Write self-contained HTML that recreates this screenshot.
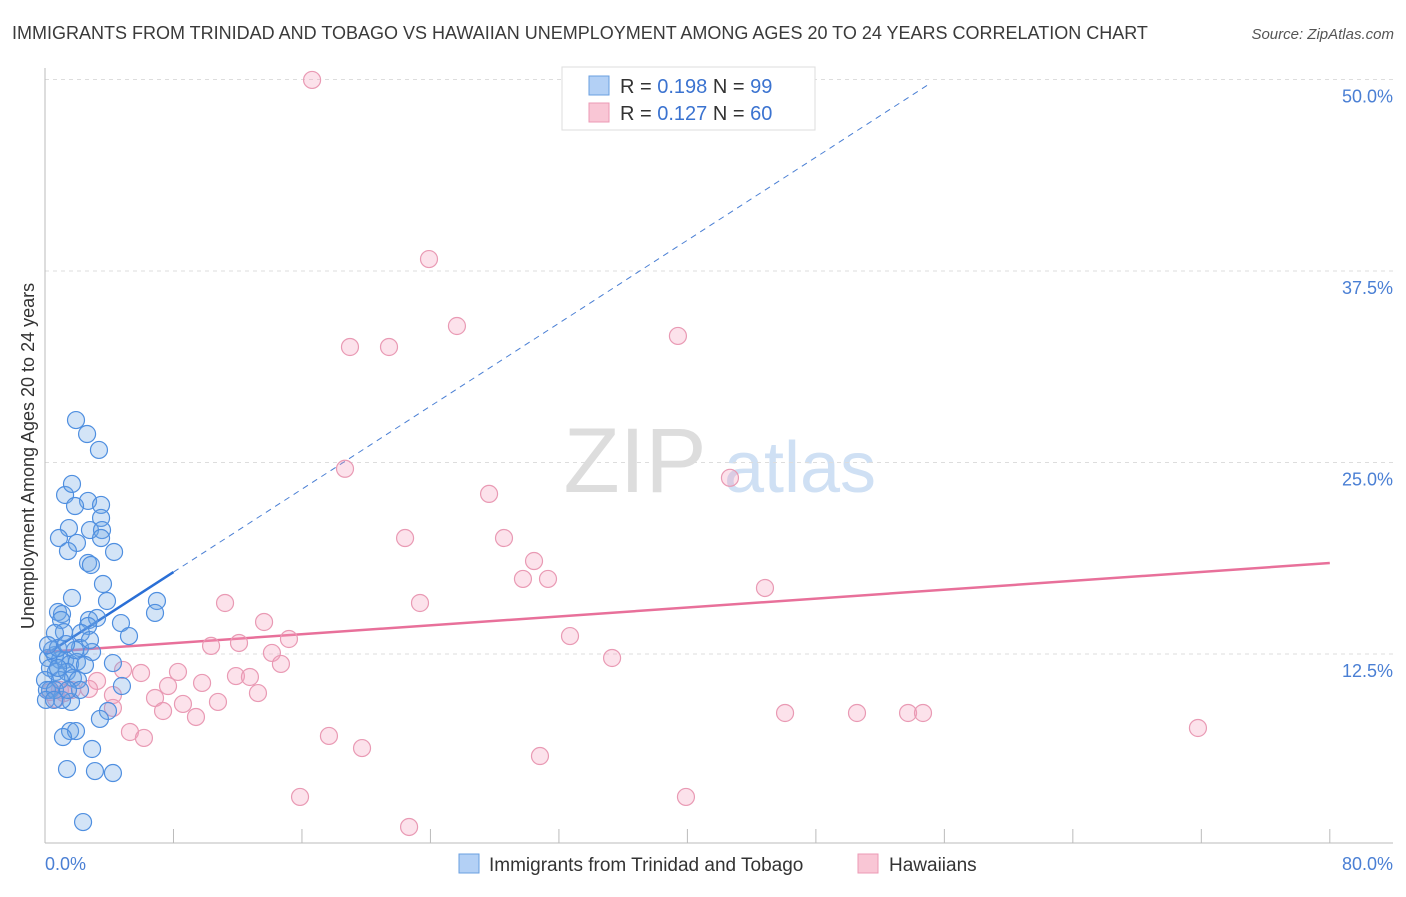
<!DOCTYPE html>
<html><head><meta charset="utf-8"><style>
body{margin:0;background:#fff;font-family:"Liberation Sans",sans-serif;}
svg text{font-family:"Liberation Sans",sans-serif;}
</style></head><body>
<svg id="chart" width="1406" height="892" viewBox="0 0 1406 892">
<text x="12" y="39" font-size="18" fill="#3a3a3a">IMMIGRANTS FROM TRINIDAD AND TOBAGO VS HAWAIIAN UNEMPLOYMENT AMONG AGES 20 TO 24 YEARS CORRELATION CHART</text>
<text x="1394" y="39" font-size="15" font-style="italic" fill="#555" text-anchor="end">Source: ZipAtlas.com</text>
<text x="0" y="0" transform="translate(34,456) rotate(-90)" font-size="18" fill="#333" text-anchor="middle">Unemployment Among Ages 20 to 24 years</text>
<g><text x="635" y="492" font-size="92" fill="#ddd" font-family="Liberation Serif" text-anchor="middle">ZIP</text><text x="800" y="492" font-size="72" fill="#cfe0f4" text-anchor="middle">atlas</text></g>
<g id="grid"></g><g id="axes"></g><g id="trend"></g><g id="pts"></g>
<g>
<rect x="562" y="67" width="253" height="63" fill="#fff" stroke="#ddd"/>
<rect x="589" y="76" width="20" height="19" fill="#b3d0f5" stroke="#6a9fe0"/>
<rect x="589" y="103" width="20" height="19" fill="#f9c6d5" stroke="#ec9ab5"/>
<text x="620" y="93" font-size="20" fill="#333">R = <tspan fill="#3b73d0">0.198</tspan>   N = <tspan fill="#3b73d0">99</tspan></text>
<text x="620" y="120" font-size="20" fill="#333">R = <tspan fill="#3b73d0">0.127</tspan>   N = <tspan fill="#3b73d0">60</tspan></text>
</g>
<g>
<rect x="459" y="854" width="20" height="19" fill="#b3d0f5" stroke="#6a9fe0"/>
<text x="489" y="871" font-size="19" fill="#333">Immigrants from Trinidad and Tobago</text>
<rect x="858" y="854" width="20" height="19" fill="#f9c6d5" stroke="#ec9ab5"/>
<text x="889" y="871" font-size="19" fill="#333">Hawaiians</text>
</g>
</svg>
<script>
const blueX=[1.93,2.62,3.36,1.25,1.68,2.68,3.49,1.87,3.49,2.8,3.55,1.49,3.49,0.87,1.99,1.43,4.3,2.68,2.86,3.61,1.68,3.86,6.97,6.85,0.81,1.06,1.0,2.74,1.18,3.24,4.73,2.68,2.24,0.62,5.23,2.18,2.93,0.62,0.93,0.19,1.25,1.56,1.99,4.23,0.31,0.68,1.37,1.74,2.05,0,4.79,0.31,3.92,3.42,1.62,1.56,1.93,1.12,2.93,1.37,3.11,4.23,2.37,0.44,0.12,0.93,1.06,0.62,2.49,1.87,2.8,0.81,1.31,0.06,0.56,2.18,1.43,0.81,0.19];
const blueY=[27.77,26.86,25.82,22.88,23.6,22.49,22.23,22.16,21.38,20.59,20.59,20.72,20.07,20.07,19.75,19.22,19.16,18.44,18.31,17.07,16.16,15.96,15.96,15.18,15.24,15.11,14.72,14.72,13.93,14.85,14.52,14.33,13.87,13.87,13.67,12.89,12.63,12.43,12.11,12.24,12.11,11.85,11.98,11.91,11.59,11.33,11.33,10.93,10.8,10.8,10.41,10.15,8.78,8.26,9.37,7.47,7.47,7.08,6.3,4.99,4.86,4.73,1.53,12.76,10.15,10.8,9.5,10.15,11.78,12.76,13.41,12.89,13.15,9.5,9.5,10.15,10.15,11.59,13.08];
const pinkX=[16.63,23.91,25.65,18.99,21.42,39.41,18.68,42.65,27.65,22.42,28.58,30.45,29.76,31.32,44.83,11.21,23.35,13.64,32.69,15.19,12.08,10.34,14.13,35.31,14.69,4.86,5.98,8.28,11.89,12.76,3.24,7.66,9.78,6.85,8.59,10.77,13.26,4.23,1.68,1.18,2.74,0.68,7.35,9.4,4.23,46.08,50.56,53.74,54.67,5.29,6.16,17.68,19.74,30.82,71.79,15.88,39.91,22.67,0.93,0.31];
const pinkY=[49.97,38.28,33.91,32.54,32.54,33.26,24.59,24.0,22.95,20.07,20.07,18.57,17.4,17.4,16.81,15.83,15.83,14.59,13.67,13.48,13.22,13.03,12.57,12.24,11.85,11.46,11.26,11.33,11.06,11.0,10.74,10.41,10.61,9.63,9.24,9.37,9.95,9.82,10.15,9.95,10.22,9.56,8.78,8.39,8.98,8.65,8.65,8.65,8.65,7.41,7.02,7.15,6.36,5.84,7.67,3.17,3.17,1.21,10.15,10.02];
const yTicks=[12.5,25.0,37.5,50.0];
const xTickVals=[8,16,24,32,40,48,56,64,72,80];
const blueFit=[12.43,0.677]; // intercept, slope
const pinkFit=[12.63,0.0726];
const NS='http://www.w3.org/2000/svg';
const xs=v=>45+v*16.06, ys=v=>845.5-v*15.32;
function mk(tag,attrs,parent){const e=document.createElementNS(NS,tag);for(const k in attrs)e.setAttribute(k,attrs[k]);document.getElementById(parent).appendChild(e);return e;}
yTicks.forEach(t=>{
 const g=mk('line',{x1:45,x2:1393,y1:ys(t),y2:ys(t),stroke:'#ddd','stroke-dasharray':'4,4'},'grid');
 
 
 const l=mk('text',{x:1393,y:ys(t)+23,'font-size':18,fill:'#4a7fd4','text-anchor':'end'},'grid');
 l.textContent=t.toFixed(1)+'%';
 
 
});
const ax=mk('line',{x1:45,x2:1393,y1:843,y2:843,stroke:'#bbb'},'axes');


const ay=mk('line',{x1:45,x2:45,y1:68,y2:843,stroke:'#bbb'},'axes');


xTickVals.forEach(t=>{
 const k=mk('line',{x1:xs(t),x2:xs(t),y1:829,y2:843,stroke:'#bbb'},'axes');
 
 
});
[[0,45,'start'],[80,1393,'end']].forEach(([v,x,a])=>{
 const l=mk('text',{x:x,y:870,'font-size':18,fill:'#4a7fd4','text-anchor':a},'axes');
 l.textContent=v.toFixed(1)+'%';
 
 
});
function pts(X,Y,fill,stroke,name){X.forEach((x,i)=>{
 const c=mk('circle',{cx:xs(x),cy:ys(Y[i]),r:8.5,fill:fill,stroke:stroke,'stroke-width':1.2},'pts');
 
 
});}
pts(pinkX,pinkY,'rgba(244,160,188,0.3)','#e99ab4','hawaiian-point');
pts(blueX,blueY,'rgba(110,165,230,0.3)','#4f8fe0','trinidad-point');
const bd=mk('line',{x1:xs(8),y1:ys(blueFit[0]+blueFit[1]*8),x2:xs(55),y2:ys(blueFit[0]+blueFit[1]*55),stroke:'#4a7fd4','stroke-width':1,'stroke-dasharray':'6,5'},'trend');


const bs=mk('line',{x1:xs(0),y1:ys(blueFit[0]),x2:xs(8),y2:ys(blueFit[0]+blueFit[1]*8),stroke:'#2a6fd6','stroke-width':2.5},'trend');


const ps=mk('line',{x1:xs(0),y1:ys(pinkFit[0]),x2:xs(80),y2:ys(pinkFit[0]+pinkFit[1]*80),stroke:'#e8709a','stroke-width':2.5},'trend');


</script>
</body></html>
